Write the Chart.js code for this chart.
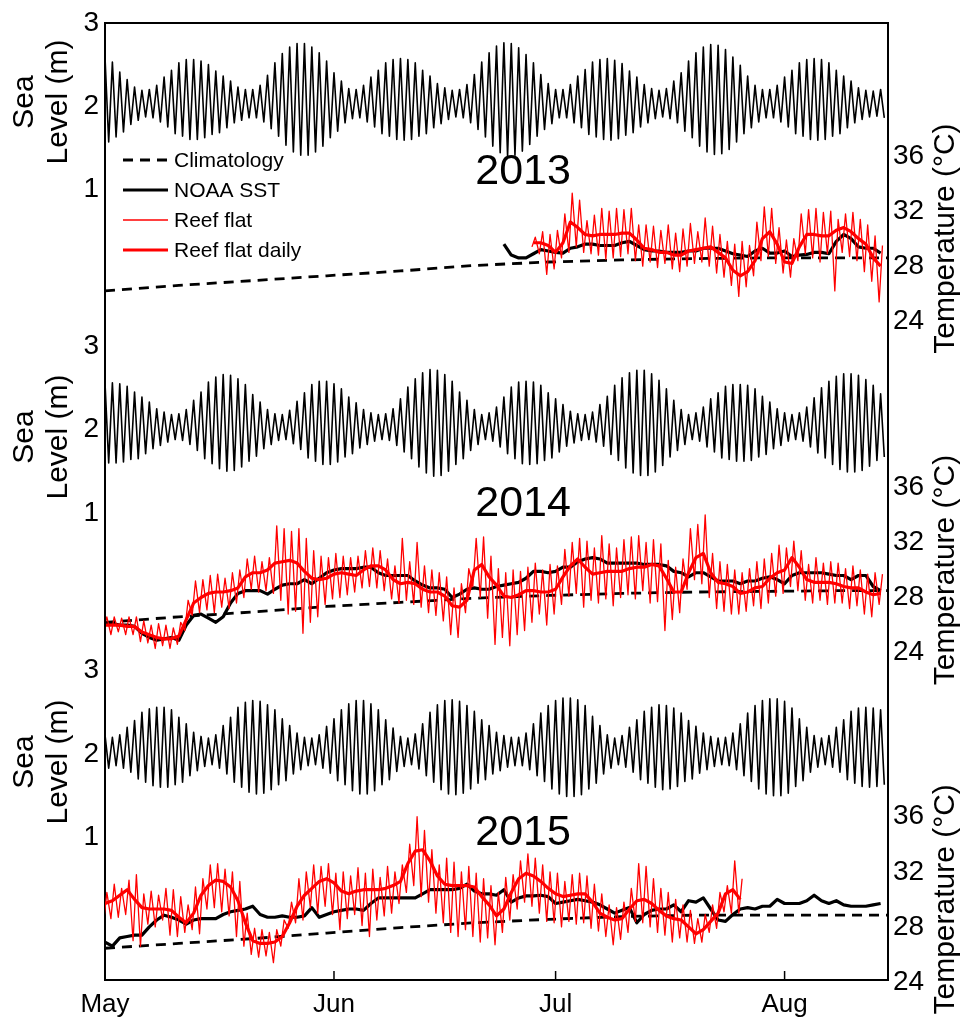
<!DOCTYPE html>
<html>
<head>
<meta charset="utf-8">
<script src="https://cdn.jsdelivr.net/npm/chart.js@4.4.1/dist/chart.umd.min.js"></script>
<style>
  html, body { margin: 0; padding: 0; background: #fff; }
  #wrap { position: relative; width: 967px; height: 1021px; }
  #wrap canvas { position: absolute; left: 0; top: 0; }
</style>
</head>
<body>
<div id="wrap">
  <canvas id="c2013" width="967" height="1021"></canvas>
  <canvas id="c2014" width="967" height="1021"></canvas>
  <canvas id="c2015" width="967" height="1021"></canvas>
</div>
<script>
// ---- axis labels / ticks ----
const monthDays = [0, 31, 61, 92];          // days after 1 May
const monthLabels = ['May', 'Jun', 'Jul', 'Aug'];
const seaTicks = [1, 2, 3];
const tempTicks = [24, 28, 32, 36];
const legendLabels = ['Climatology', 'NOAA SST', 'Reef flat', 'Reef flat daily'];

// ---- sea level, daily high / low (m), day 0 = 1 May ----
const tideHi2013 = [2.59,2.53,2.41,2.32,2.23,2.19,2.20,2.25,2.35,2.43, 2.52,2.56,2.56,2.54,2.50,2.42,2.36,2.30,2.23,2.20,
  2.20,2.25,2.37,2.52,2.63,2.71,2.75,2.75,2.71,2.64, 2.54,2.40,2.30,2.21,2.20,2.25,2.35,2.43,2.52,2.56,
  2.57,2.56,2.52,2.43,2.36,2.27,2.22,2.19,2.20,2.26, 2.38,2.53,2.64,2.72,2.76,2.75,2.70,2.62,2.52,2.38,
  2.27,2.20,2.20,2.26,2.36,2.44,2.53,2.56,2.57,2.55, 2.51,2.42,2.35,2.26,2.21,2.19,2.21,2.30,2.40,2.54,
  2.64,2.71,2.74,2.73,2.68,2.59,2.49,2.36,2.25,2.20, 2.20,2.25,2.35,2.43,2.52,2.56,2.57,2.56,2.52,2.43,
  2.36,2.30,2.22,2.19,2.18,2.20];
const tideLo2013 = [1.57,1.63,1.69,1.78,1.83,1.87,1.86,1.81,1.75,1.67, 1.64,1.60,1.60,1.62,1.66,1.68,1.74,1.80,1.83,1.86,
  1.86,1.81,1.73,1.64,1.53,1.45,1.41,1.41,1.45,1.52, 1.62,1.70,1.80,1.85,1.86,1.81,1.75,1.67,1.64,1.60,
  1.59,1.60,1.64,1.67,1.74,1.79,1.84,1.87,1.86,1.80, 1.72,1.63,1.52,1.44,1.40,1.41,1.46,1.54,1.64,1.72,
  1.79,1.86,1.86,1.80,1.74,1.66,1.63,1.60,1.59,1.61, 1.65,1.68,1.75,1.80,1.85,1.87,1.85,1.80,1.70,1.62,
  1.52,1.45,1.42,1.43,1.48,1.57,1.67,1.74,1.81,1.86, 1.86,1.81,1.75,1.67,1.64,1.60,1.59,1.60,1.64,1.67,
  1.74,1.80,1.84,1.87,1.88,1.86];
const tideHi2014 = [2.56,2.56,2.55,2.52,2.45,2.39,2.33,2.25,2.21,2.18, 2.19,2.24,2.35,2.45,2.57,2.63,2.66,2.65,2.61,2.54,
  2.42,2.33,2.24,2.19,2.18,2.23,2.34,2.44,2.54,2.58, 2.58,2.55,2.49,2.39,2.32,2.24,2.20,2.18,2.19,2.25,
  2.37,2.51,2.61,2.68,2.72,2.71,2.66,2.58,2.45,2.35, 2.24,2.18,2.20,2.27,2.39,2.51,2.57,2.58,2.57,2.53,
  2.44,2.37,2.30,2.22,2.19,2.18,2.21,2.30,2.40,2.53, 2.62,2.68,2.71,2.71,2.67,2.59,2.49,2.35,2.24,2.18,
  2.20,2.27,2.37,2.44,2.52,2.54,2.54,2.53,2.49,2.40, 2.33,2.25,2.20,2.18,2.20,2.27,2.38,2.50,2.58,2.64,
  2.67,2.67,2.65,2.60,2.53,2.43];
const tideLo2014 = [1.60,1.60,1.61,1.64,1.65,1.71,1.77,1.81,1.85,1.88, 1.87,1.82,1.75,1.65,1.59,1.53,1.50,1.51,1.55,1.62,
  1.68,1.77,1.82,1.87,1.88,1.83,1.76,1.66,1.62,1.58, 1.58,1.61,1.67,1.71,1.78,1.82,1.86,1.88,1.87,1.81,
  1.73,1.65,1.55,1.48,1.44,1.45,1.50,1.58,1.65,1.75, 1.82,1.88,1.86,1.79,1.71,1.65,1.59,1.58,1.59,1.63,
  1.66,1.73,1.80,1.84,1.87,1.88,1.85,1.80,1.70,1.63, 1.54,1.48,1.45,1.45,1.49,1.57,1.67,1.75,1.82,1.88,
  1.86,1.79,1.73,1.66,1.64,1.62,1.62,1.63,1.67,1.70, 1.77,1.81,1.86,1.88,1.86,1.79,1.72,1.66,1.58,1.52,
  1.49,1.49,1.51,1.56,1.63,1.67];
const tideHi2015 = [2.23,2.20,2.23,2.32,2.40,2.50,2.54,2.56,2.56,2.53, 2.44,2.36,2.26,2.21,2.19,2.23,2.34,2.44,2.56,2.62,
  2.64,2.63,2.59,2.53,2.42,2.34,2.25,2.20,2.19,2.23, 2.33,2.42,2.53,2.60,2.64,2.64,2.60,2.53,2.41,2.31,
  2.21,2.19,2.24,2.36,2.50,2.59,2.64,2.65,2.63,2.58, 2.51,2.41,2.34,2.26,2.22,2.20,2.20,2.25,2.36,2.49,
  2.58,2.64,2.67,2.67,2.65,2.58,2.45,2.34,2.23,2.19, 2.22,2.32,2.41,2.51,2.56,2.59,2.58,2.55,2.49,2.40,
  2.33,2.25,2.21,2.19,2.20,2.25,2.36,2.49,2.58,2.64, 2.66,2.66,2.63,2.55,2.42,2.32,2.22,2.19,2.22,2.32,
  2.41,2.51,2.55,2.56,2.55,2.53];
const tideLo2015 = [1.83,1.86,1.83,1.78,1.70,1.66,1.62,1.60,1.60,1.63, 1.66,1.74,1.80,1.85,1.87,1.83,1.76,1.66,1.60,1.54,
  1.52,1.53,1.57,1.63,1.68,1.76,1.81,1.86,1.87,1.83, 1.77,1.68,1.63,1.56,1.52,1.52,1.56,1.63,1.69,1.79,
  1.85,1.87,1.82,1.74,1.66,1.57,1.52,1.51,1.53,1.58, 1.65,1.69,1.76,1.80,1.84,1.86,1.86,1.81,1.74,1.67,
  1.58,1.52,1.49,1.49,1.51,1.58,1.65,1.76,1.83,1.87, 1.84,1.78,1.69,1.65,1.60,1.57,1.58,1.61,1.67,1.70,
  1.77,1.81,1.85,1.87,1.86,1.81,1.74,1.67,1.58,1.52, 1.50,1.50,1.53,1.61,1.68,1.78,1.84,1.87,1.84,1.78,
  1.69,1.65,1.61,1.60,1.61,1.63];

// ---- climatology (deg C) ----
const climDays = [0, 10, 20, 30, 40, 50, 60, 70, 80, 90, 100, 106];
const clim2013 = [26.2, 26.6, 26.95, 27.3, 27.65, 28.05, 28.3, 28.45, 28.55, 28.6, 28.6, 28.6];
const clim2014 = [26.2, 26.6, 26.95, 27.35, 27.65, 27.95, 28.15, 28.3, 28.4, 28.45, 28.5, 28.5];
const clim2015 = [26.45, 26.8, 27.15, 27.55, 27.95, 28.3, 28.55, 28.75, 28.85, 28.85, 28.85, 28.85];

// ---- NOAA SST daily (deg C) ----
const noaaStart2013 = 54;
const noaa2013 = [29.6,28.8,28.6,28.6,28.9,29.2,29.1,29.0,28.95,29.3, 29.4,29.6,29.6,29.5,29.5,29.5,29.7,29.8,29.5,29.2,
  29.1,29.1,29.0,29.0,29.0,29.1,29.1,29.3,29.3,29.3, 29.1,28.9,28.8,28.7,29.1,29.3,28.95,28.95,29.1,28.7,
  28.8,28.85,29.0,29.0,28.9,29.8,30.3,30.0,29.4,29.3, 29.3,28.95];
const noaaStart2014 = 0;
const noaa2014 = [26.1,26.1,26.0,26.0,25.9,25.4,25.1,24.9,25.0,25.1, 24.9,26.0,26.7,26.8,26.5,26.2,26.6,27.6,28.3,28.5,
  28.5,28.5,28.25,28.6,28.9,29.0,29.0,29.3,29.0,29.4, 29.8,30.0,30.1,30.1,30.1,30.2,30.2,29.8,29.6,29.6,
  29.6,29.6,29.2,28.9,28.7,28.7,28.6,28.0,28.25,28.6, 28.7,28.6,28.6,28.8,28.9,29.0,29.1,29.4,29.9,29.9,
  29.8,29.9,30.2,30.2,30.6,30.8,30.9,30.8,30.5,30.5, 30.5,30.5,30.5,30.4,30.4,30.4,30.3,29.9,29.8,29.5,
  29.8,29.8,29.5,29.2,29.2,29.2,29.0,29.2,29.2,29.4, 29.5,29.3,29.0,29.6,29.8,29.8,29.8,29.8,29.7,29.6,
  29.6,29.3,29.6,29.6,28.8,28.5];
const noaaStart2015 = 0;
const noaa2015 = [26.9,26.6,27.2,27.3,27.4,27.4,28.0,28.5,28.85,28.7, 28.5,28.2,28.5,28.6,28.6,28.6,28.9,29.1,29.2,29.3,
  29.5,28.9,28.7,28.7,28.8,28.7,28.7,28.8,29.4,28.7, 28.9,29.1,29.2,29.3,29.3,29.2,29.7,30.1,30.1,30.1,
  30.1,30.1,30.1,30.4,30.7,30.7,30.7,30.7,30.8,31.1, 30.6,30.4,30.4,30.3,30.7,29.8,30.1,30.25,30.25,30.3,
  30.2,29.7,29.8,29.9,30.0,29.9,29.8,29.6,29.3,29.0, 29.2,29.4,28.3,28.9,29.2,29.3,29.3,29.6,29.1,29.9,
  29.8,30.1,29.3,28.5,28.4,28.9,29.3,29.4,29.3,29.5, 29.5,30.0,29.7,29.7,29.7,29.9,30.3,29.9,29.7,29.9,
  29.6,29.5,29.5,29.5,29.6,29.7];

// ---- reef flat daily mean (deg C) ----
const reefStart2013 = 58;
const reefDaily2013 = [29.7,29.7,29.5,29.0,29.7,31.2,30.8,30.3,30.2,30.3, 30.3,30.3,30.4,30.4,29.9,29.3,29.2,29.0,29.0,28.8,
  28.8,29.1,29.2,29.3,29.4,29.0,28.6,27.7,27.3,27.6, 28.4,30.0,30.5,29.6,28.3,28.2,29.4,30.3,30.3,30.2,
  30.2,30.6,30.8,30.5,30.0,29.6,28.6,28.0];
const reefStart2014 = 0;
const reefDaily2014 = [26.0,26.0,26.0,25.9,25.9,25.5,25.3,25.1,25.0,25.0, 25.2,26.4,27.6,28.0,28.3,28.4,28.4,28.5,28.7,29.5,
  29.8,29.8,30.0,30.5,30.6,30.7,30.5,29.9,29.4,29.3, 29.4,29.7,29.8,29.7,29.6,30.0,30.3,30.3,30.0,29.3,
  29.0,29.1,29.0,28.6,28.4,28.4,28.1,27.4,27.3,27.8, 30.0,30.4,29.5,28.9,28.1,28.0,28.2,28.5,28.5,28.4,
  28.4,28.6,29.5,30.3,30.8,30.2,29.7,29.8,29.9,29.9, 29.9,30.1,30.2,30.2,30.4,30.3,29.4,28.4,28.4,29.8,
  30.9,31.2,29.8,29.1,29.0,28.8,28.3,28.4,28.7,28.8, 29.4,29.8,30.0,30.9,30.2,29.3,29.1,29.1,29.1,29.0,
  28.8,28.7,28.7,28.4,28.2,28.3];
const reefStart2015 = 0;
const reefDaily2015 = [29.7,29.9,30.3,30.7,30.0,29.4,29.3,29.3,29.3,29.2, 28.7,28.3,29.0,30.3,31.0,31.4,31.3,30.9,29.9,28.3,
  27.0,26.8,26.8,26.9,27.3,28.3,29.5,30.3,30.8,31.3, 31.5,31.2,30.6,30.4,30.6,30.7,30.7,30.7,30.8,31.0,
  31.3,32.6,33.5,33.6,32.8,31.7,31.1,31.0,31.0,31.0, 30.9,30.2,29.6,28.8,29.3,30.5,31.5,31.9,31.7,31.3,
  30.8,30.4,30.2,30.3,30.4,30.4,29.8,29.0,28.7,28.5, 28.6,29.3,29.9,30.0,29.7,29.2,28.8,28.6,28.5,28.0,
  27.5,27.8,28.4,29.0,30.4,30.7,30.0];

// ---- reef flat logger, daily max / min (deg C) ----
const reefMax2013 = [30.1,30.5,30.3,30.6,31.8,33.3,32.8,31.3,31.7,32.2, 32.0,32.2,32.1,32.2,31.0,31.0,30.9,30.6,31.0,30.4,
  30.7,31.1,30.5,31.5,30.9,30.3,29.8,29.6,29.8,29.5, 31.2,32.3,32.2,30.8,29.9,30.0,31.8,32.1,32.2,31.9,
  32.0,31.4,31.8,31.9,31.4,31.0,30.2,29.5];
const reefMin2013 = [29.4,28.9,27.4,27.8,28.6,29.0,29.4,29.0,28.9,28.8, 28.5,28.6,28.7,28.9,28.4,28.0,28.3,27.9,28.2,27.8,
  27.6,28.0,28.2,28.3,28.0,27.5,27.2,26.6,25.8,26.5, 27.3,28.4,28.7,28.2,27.5,27.2,28.4,28.9,28.6,28.3,
  28.9,26.2,29.0,28.7,28.4,27.6,26.9,25.4];
const reefMax2014 = [26.6,26.6,26.5,26.6,26.6,26.3,26.0,26.1,26.0,25.8, 26.2,27.8,29.2,29.3,29.6,29.7,29.4,29.8,30.0,30.8,
  31.0,30.6,30.9,33.2,33.0,32.8,33.0,32.3,31.4,31.0, 30.9,31.2,31.0,30.9,31.0,31.4,31.6,31.4,30.8,30.3,
  32.3,30.6,32.0,30.3,30.0,29.8,29.5,28.7,29.0,30.1, 32.3,32.4,31.0,30.1,29.8,30.0,29.9,30.2,30.5,30.0,
  30.4,30.3,31.5,32.0,32.3,32.1,31.6,32.5,31.9,31.6, 32.2,32.4,32.5,32.0,32.2,31.9,30.7,30.2,30.8,33.0,
  33.3,34.0,31.2,30.6,30.4,30.0,29.8,30.1,30.6,30.8, 31.2,31.8,31.6,32.1,31.4,30.4,30.9,30.5,30.6,30.5,
  30.1,30.3,30.0,29.7,29.8,29.7];
const reefMin2014 = [25.6,25.3,25.5,25.3,25.3,24.8,24.7,24.3,24.5,24.3, 24.6,25.6,26.7,26.9,27.1,26.9,27.3,27.2,27.6,28.0,
  28.6,28.4,28.5,28.3,27.8,26.8,27.0,25.4,26.2,26.6, 27.5,27.9,28.0,28.2,28.4,28.7,28.8,28.7,28.5,27.9,
  27.6,27.8,27.5,27.3,26.9,26.7,26.3,25.3,25.1,26.9, 28.8,28.0,26.5,24.6,25.1,24.5,25.3,25.6,26.2,26.8,
  26.0,26.8,27.5,28.1,28.3,27.3,27.8,27.6,27.9,27.4, 28.0,28.2,27.9,28.5,27.6,27.7,25.6,26.4,26.9,28.6,
  29.3,29.0,28.0,27.2,27.0,26.8,26.8,27.0,27.4,27.2, 27.6,28.1,28.3,28.8,28.5,27.8,27.6,27.8,27.5,27.6,
  27.6,27.2,27.4,26.8,26.6,27.5];
const reefMax2015 = [30.5,31.1,30.8,31.4,31.8,30.4,30.6,30.3,30.8,30.7, 30.2,29.6,30.9,31.5,32.5,32.6,32.2,32.0,31.3,29.0,
  27.9,27.8,27.6,27.8,28.5,29.8,31.5,32.0,32.5,32.4, 32.6,31.9,32.0,31.7,32.3,31.9,32.2,31.6,32.4,32.0,
  32.5,34.0,36.0,35.0,33.6,32.5,33.0,32.7,32.0,32.4, 31.9,31.5,31.0,30.5,31.6,31.8,32.8,33.3,33.0,32.5,
  32.0,31.9,31.3,31.8,31.9,31.7,31.1,30.4,29.6,29.4, 29.8,30.8,32.6,32.4,31.5,30.8,30.5,30.0,29.6,29.2,
  28.6,28.9,29.6,30.5,31.0,32.8,31.5];
const reefMin2015 = [28.3,28.6,28.7,28.9,27.0,26.6,28.2,28.0,28.5,27.4, 27.3,27.6,27.8,27.5,29.3,29.4,29.1,28.8,27.3,26.6,
  26.0,25.8,25.9,25.4,26.6,27.9,28.3,28.5,29.4,29.0, 29.5,28.9,27.8,28.6,28.9,28.1,27.3,28.5,28.8,29.0,
  29.7,30.5,31.0,30.2,29.8,29.0,28.3,27.6,27.3,27.8, 27.3,26.9,27.2,26.7,27.6,28.5,29.3,29.8,29.5,29.0,
  28.4,28.3,28.0,28.4,28.2,28.3,27.9,27.7,27.3,26.7, 27.1,27.6,28.4,28.3,28.0,27.6,27.4,26.9,27.2,26.9,
  26.8,26.9,27.6,27.9,29.1,29.0,29.0];

// ---- layout (pixels) ----
const FONT = '"Liberation Sans", Arial, Helvetica, sans-serif';
const box = { left: 105, right: 888, top: 21, bottom: 980, W: 967, H: 1021 };
const xMax = 106;
const panels = [
  { id: 'c2013', year: '2013', seaTop: 21,  temp24: 320, seaLabelY: 102,
    tide: [tideHi2013, tideLo2013], clim: clim2013, noaa: [noaaStart2013, noaa2013],
    daily: [reefStart2013, reefDaily2013], thin: [reefStart2013, reefMax2013, reefMin2013] },
  { id: 'c2014', year: '2014', seaTop: 345, temp24: 652, seaLabelY: 437,
    tide: [tideHi2014, tideLo2014], clim: clim2014, noaa: [noaaStart2014, noaa2014],
    daily: [reefStart2014, reefDaily2014], thin: [reefStart2014, reefMax2014, reefMin2014] },
  { id: 'c2015', year: '2015', seaTop: 670, temp24: 982, seaLabelY: 762,
    tide: [tideHi2015, tideLo2015], clim: clim2015, noaa: [noaaStart2015, noaa2015],
    daily: [reefStart2015, reefDaily2015], thin: [reefStart2015, reefMax2015, reefMin2015] }
];
const seaPx = 83.5;   // px per metre
const tempPx = 13.8;  // px per deg C

function tidePoints(hi, lo) {
  const pts = [];
  hi.forEach((v, i) => { pts.push({ x: i, y: v }); pts.push({ x: i + 0.5, y: lo[i] }); });
  return pts;
}
function dailyPoints(start, vals) { return vals.map((v, i) => ({ x: start + i, y: v })); }
function thinPoints(start, mx, mn) {
  const pts = [];
  mx.forEach((v, i) => { pts.push({ x: start + i - 0.2, y: mn[i] }); pts.push({ x: start + i + 0.25, y: v }); });
  return pts;
}

const overlay = {
  id: 'overlay',
  afterDraw(chart, args, o) {
    const ctx = chart.ctx, t = chart.scales.t, x = chart.scales.x;
    ctx.save();
    ctx.fillStyle = '#000';
    ctx.textAlign = 'center';
    ctx.textBaseline = 'middle';
    // left title
    ctx.font = '30px ' + FONT;
    ctx.save(); ctx.translate(25, o.seaLabelY); ctx.rotate(-Math.PI / 2); ctx.fillText('Sea', 0, 0); ctx.restore();
    ctx.save(); ctx.translate(59, o.seaLabelY); ctx.rotate(-Math.PI / 2); ctx.fillText('Level (m)', 0, 0); ctx.restore();
    // right title
    ctx.save(); ctx.translate(946, t.getPixelForValue(30)); ctx.rotate(-Math.PI / 2); ctx.fillText('Temperature (\u00B0C)', 0, 0); ctx.restore();
    // year
    ctx.font = '43px ' + FONT;
    ctx.fillText(o.year, x.getPixelForValue(56.6), t.getPixelForValue(34.8));
    // inward x ticks
    if (o.last) {
      ctx.strokeStyle = '#000'; ctx.lineWidth = 1.5;
      monthDays.slice(1).forEach(d => {
        const px = x.getPixelForValue(d);
        ctx.beginPath(); ctx.moveTo(px, box.bottom); ctx.lineTo(px, box.bottom - 9); ctx.stroke();
      });
    }
    // legend
    if (o.legend) {
      const ds = chart.data.datasets;
      const order = [3, 2, 1, 0];
      ctx.textAlign = 'left';
      ctx.font = '21px ' + FONT;
      order.forEach((k, i) => {
        const y = 160 + i * 30;
        const d = ds[k];
        ctx.strokeStyle = d.borderColor; ctx.lineWidth = d.borderWidth;
        ctx.setLineDash(d.borderDash || []);
        ctx.beginPath(); ctx.moveTo(123, y); ctx.lineTo(168, y); ctx.stroke();
        ctx.setLineDash([]);
        ctx.fillText(legendLabels[i], 174, y + 1);
      });
    }
    ctx.restore();
  }
};

panels.forEach((p, idx) => {
  const last = idx === panels.length - 1;
  const plotH = box.bottom - box.top;
  const sMax = 3 + (p.seaTop - box.top) / seaPx, sMin = sMax - plotH / seaPx;
  const tMin = 24 - (box.bottom - p.temp24) / tempPx, tMax = tMin + plotH / tempPx;
  const datasets = [
    { label: 'Reef flat daily', data: dailyPoints(p.daily[0], p.daily[1]), yAxisID: 't', borderColor: '#ff0000', borderWidth: 3.2 },
    { label: 'Reef flat', data: thinPoints(p.thin[0], p.thin[1], p.thin[2]), yAxisID: 't', borderColor: '#ff0000', borderWidth: 1.3 },
    { label: 'NOAA SST', data: dailyPoints(p.noaa[0], p.noaa[1]), yAxisID: 't', borderColor: '#000000', borderWidth: 3.2 },
    { label: 'Climatology', data: climDays.map((d, i) => ({ x: d, y: p.clim[i] })), yAxisID: 't', borderColor: '#000000', borderWidth: 2.8, borderDash: [10, 7] },
    { label: 'Sea level', data: tidePoints(p.tide[0], p.tide[1]), yAxisID: 's', borderColor: '#000000', borderWidth: 1.6 }
  ];
  new Chart(document.getElementById(p.id), {
    type: 'line',
    data: { datasets },
    options: {
      responsive: false, animation: false, devicePixelRatio: 1,
      layout: { padding: { top: box.top, left: 0, right: 0, bottom: 0 } },
      elements: { point: { radius: 0 }, line: { tension: 0, fill: false, borderJoinStyle: 'round' } },
      plugins: { legend: { display: false }, tooltip: { enabled: false },
        overlay: { year: p.year, seaLabelY: p.seaLabelY, legend: idx === 0, last } },
      scales: {
        x: {
          type: 'linear', position: 'bottom', min: 0, max: xMax,
          grid: { display: false, drawTicks: false },
          border: { display: true, width: 2, color: '#000' },
          ticks: { display: last, autoSkip: false, maxRotation: 0, padding: 9, color: '#000',
            font: { family: FONT, size: 26 }, callback: (v, i) => monthLabels[i] },
          afterBuildTicks: sc => { sc.ticks = monthDays.map(v => ({ value: v })); },
          afterFit: sc => { sc.height = box.H - box.bottom; }
        },
        x2: {
          type: 'linear', position: 'top', min: 0, max: xMax,
          grid: { display: false, drawTicks: false },
          border: { display: true, width: 2, color: '#000' },
          ticks: { display: false },
          afterFit: sc => { sc.height = 0; }
        },
        s: {
          type: 'linear', position: 'left', min: sMin, max: sMax,
          grid: { display: false, drawTicks: false },
          border: { display: true, width: 2, color: '#000' },
          ticks: { padding: 6, color: '#000', font: { family: FONT, size: 28 } },
          afterBuildTicks: sc => { sc.ticks = seaTicks.map(v => ({ value: v })); },
          afterFit: sc => { sc.width = box.left; }
        },
        t: {
          type: 'linear', position: 'right', min: tMin, max: tMax,
          grid: { display: false, drawTicks: false },
          border: { display: true, width: 2, color: '#000' },
          ticks: { padding: 5, color: '#000', font: { family: FONT, size: 28 } },
          afterBuildTicks: sc => { sc.ticks = tempTicks.map(v => ({ value: v })); },
          afterFit: sc => { sc.width = box.W - box.right; }
        }
      }
    },
    plugins: [overlay]
  });
});
</script>
</body>
</html>
